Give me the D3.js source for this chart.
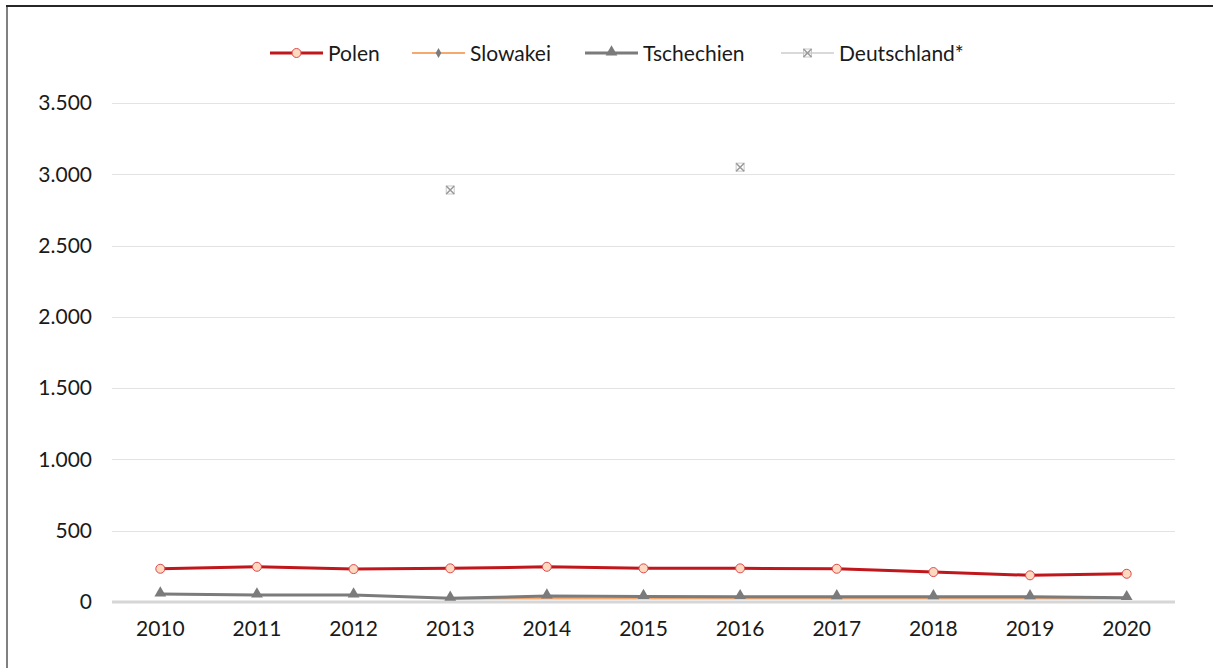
<!DOCTYPE html>
<html lang="de">
<head>
<meta charset="UTF-8">
<title>Polen, Slowakei, Tschechien, Deutschland</title>
<style>
    body { margin: 0; background: #fff; }
    text { font-family: Lato, "Open Sans", sans-serif; font-size: 21px; fill: #1a1a1a; }
    .grid-line { stroke: #e3e3e3; stroke-width: 1px; }
    .zero-line { stroke: #d6d6d6; stroke-width: 3px; }
</style>
</head>
<body>
<div id="container"></div>
<script src="https://d3js.org/d3.v7.min.js"></script>
<script>
// data
var years = ["2010","2011","2012","2013","2014","2015","2016","2017","2018","2019","2020"];
var polen       = [233, 247, 231, 236, 247, 236, 236, 233, 210, 187, 198];
var slowakei    = [null, null, null, 22, 25, 25, 25, 24, 24, 24, 24];
var tschechien  = [56, 49, 49, 26, 42, 38, 37, 36, 36, 36, 30];
var deutschland = [null, null, null, 2890, null, null, 3050, null, null, null, null];
var yTicks = [0, 500, 1000, 1500, 2000, 2500, 3000, 3500];

var series = [
    { name: "Polen", values: polen, color: "#c0171c", marker: "circle", width: 3 },
    { name: "Slowakei", values: slowakei, color: "#f6a86e", marker: "diamond", width: 2 },
    { name: "Tschechien", values: tschechien, color: "#7b7b7b", marker: "triangle", width: 3 },
    { name: "Deutschland*", values: deutschland, color: "#d9d9d9", marker: "cross", width: 2 }
];

var W = 1213, H = 668;
var margin = { top: 103, right: 38, bottom: 66, left: 112 };
var width = W - margin.left - margin.right,
    height = H - margin.top - margin.bottom;

var svg = d3.select("#container").append("svg")
    .attr("width", W)
    .attr("height", H);

// chart frame (left + top only visible)
svg.append("line").attr("x1", 7).attr("x2", 7).attr("y1", 5).attr("y2", H)
    .attr("stroke", "#808080").attr("stroke-width", 2);
svg.append("line").attr("x1", 6).attr("x2", W).attr("y1", 6).attr("y2", 6)
    .attr("stroke", "#262626").attr("stroke-width", 2);

var g = svg.append("g").attr("transform", "translate(" + margin.left + "," + margin.top + ")");

var x = d3.scaleBand().domain(years).range([0, width]);
var y = d3.scaleLinear().domain([0, 3500]).range([height, 0]);
var cx = function (i) { return x(years[i]) + x.bandwidth() / 2; };

// grid lines
g.append("g").selectAll("line")
    .data(yTicks.filter(function (d) { return d > 0; }))
    .enter().append("line")
    .attr("class", "grid-line")
    .attr("x1", 0).attr("x2", width)
    .attr("y1", function (d) { return Math.round(y(d)) + 0.5; })
    .attr("y2", function (d) { return Math.round(y(d)) + 0.5; });

// y axis labels
var yAxis = d3.axisLeft(y).tickValues(yTicks).tickSize(0).tickPadding(20)
    .tickFormat(function (d) { return d3.format(",")(d).replace(/,/g, "."); });
var yg = g.append("g").call(yAxis);
yg.select(".domain").remove();
yg.selectAll("text").style("font-family", "Lato, sans-serif").style("font-size", "21px").attr("fill", "#1a1a1a");

// x axis labels
var xAxis = d3.axisBottom(x).tickSize(0).tickPadding(19);
var xg = g.append("g").attr("transform", "translate(0," + height + ")").call(xAxis);
xg.select(".domain").remove();
xg.selectAll("text").style("font-family", "Lato, sans-serif").style("font-size", "21px").attr("fill", "#1a1a1a");

// zero line
g.append("line").attr("class", "zero-line")
    .attr("x1", 0).attr("x2", width)
    .attr("y1", y(0)).attr("y2", y(0));

function drawMarker(sel, s, px, py) {
    if (s.marker === "circle") {
        sel.append("circle").attr("cx", px).attr("cy", py).attr("r", 4.5)
            .attr("fill", "#fdd9c0").attr("stroke", "#e0474c").attr("stroke-width", 1);
    } else if (s.marker === "diamond") {
        sel.append("path").attr("d", d3.symbol(d3.symbolDiamond, 28)())
            .attr("transform", "translate(" + px + "," + py + ")").attr("fill", "#7b7b7b");
    } else if (s.marker === "triangle") {
        sel.append("path").attr("d", d3.symbol(d3.symbolTriangle, 60)())
            .attr("transform", "translate(" + px + "," + (py - 1) + ")").attr("fill", "#7b7b7b");
    } else {
        var r = 4;
        var m = sel.append("g").attr("transform", "translate(" + px + "," + py + ")");
        m.append("rect").attr("x", -r).attr("y", -r).attr("width", 2 * r).attr("height", 2 * r)
            .attr("fill", "none").attr("stroke", "#c8c8c8").attr("stroke-width", 1);
        m.append("path").attr("d", "M" + (-r) + "," + (-r) + "L" + r + "," + r + "M" + r + "," + (-r) + "L" + (-r) + "," + r)
            .attr("stroke", "#999").attr("stroke-width", 1.5);
    }
}

var line = d3.line()
    .defined(function (d) { return d != null; })
    .x(function (d, i) { return cx(i); })
    .y(function (d) { return y(d); });

// draw from back to front: Deutschland, Slowakei, Tschechien, Polen
var order = [3, 1, 2, 0];
order.forEach(function (k) {
    var s = series[k];
    var sg = g.append("g");
    sg.append("path").datum(s.values)
        .attr("fill", "none")
        .attr("stroke", s.color)
        .attr("stroke-width", s.width)
        .attr("stroke-linejoin", "round")
        .attr("d", line);
    s.values.forEach(function (v, i) {
        if (v != null && s.marker !== "diamond") drawMarker(sg, s, cx(i), y(v));
    });
});

// legend
var legendX = [270, 412, 585, 781];
var legend = svg.append("g").attr("transform", "translate(0,53)");
series.forEach(function (s, i) {
    var lg = legend.append("g").attr("transform", "translate(" + legendX[i] + ",0)");
    lg.append("line").attr("x1", 0).attr("x2", 53).attr("y1", 0).attr("y2", 0)
        .attr("stroke", s.color).attr("stroke-width", s.width);
    drawMarker(lg, s, 26.5, 0);
    lg.append("text").attr("x", 58).attr("y", 7.5).text(s.name);
});
</script>
</body>
</html>
